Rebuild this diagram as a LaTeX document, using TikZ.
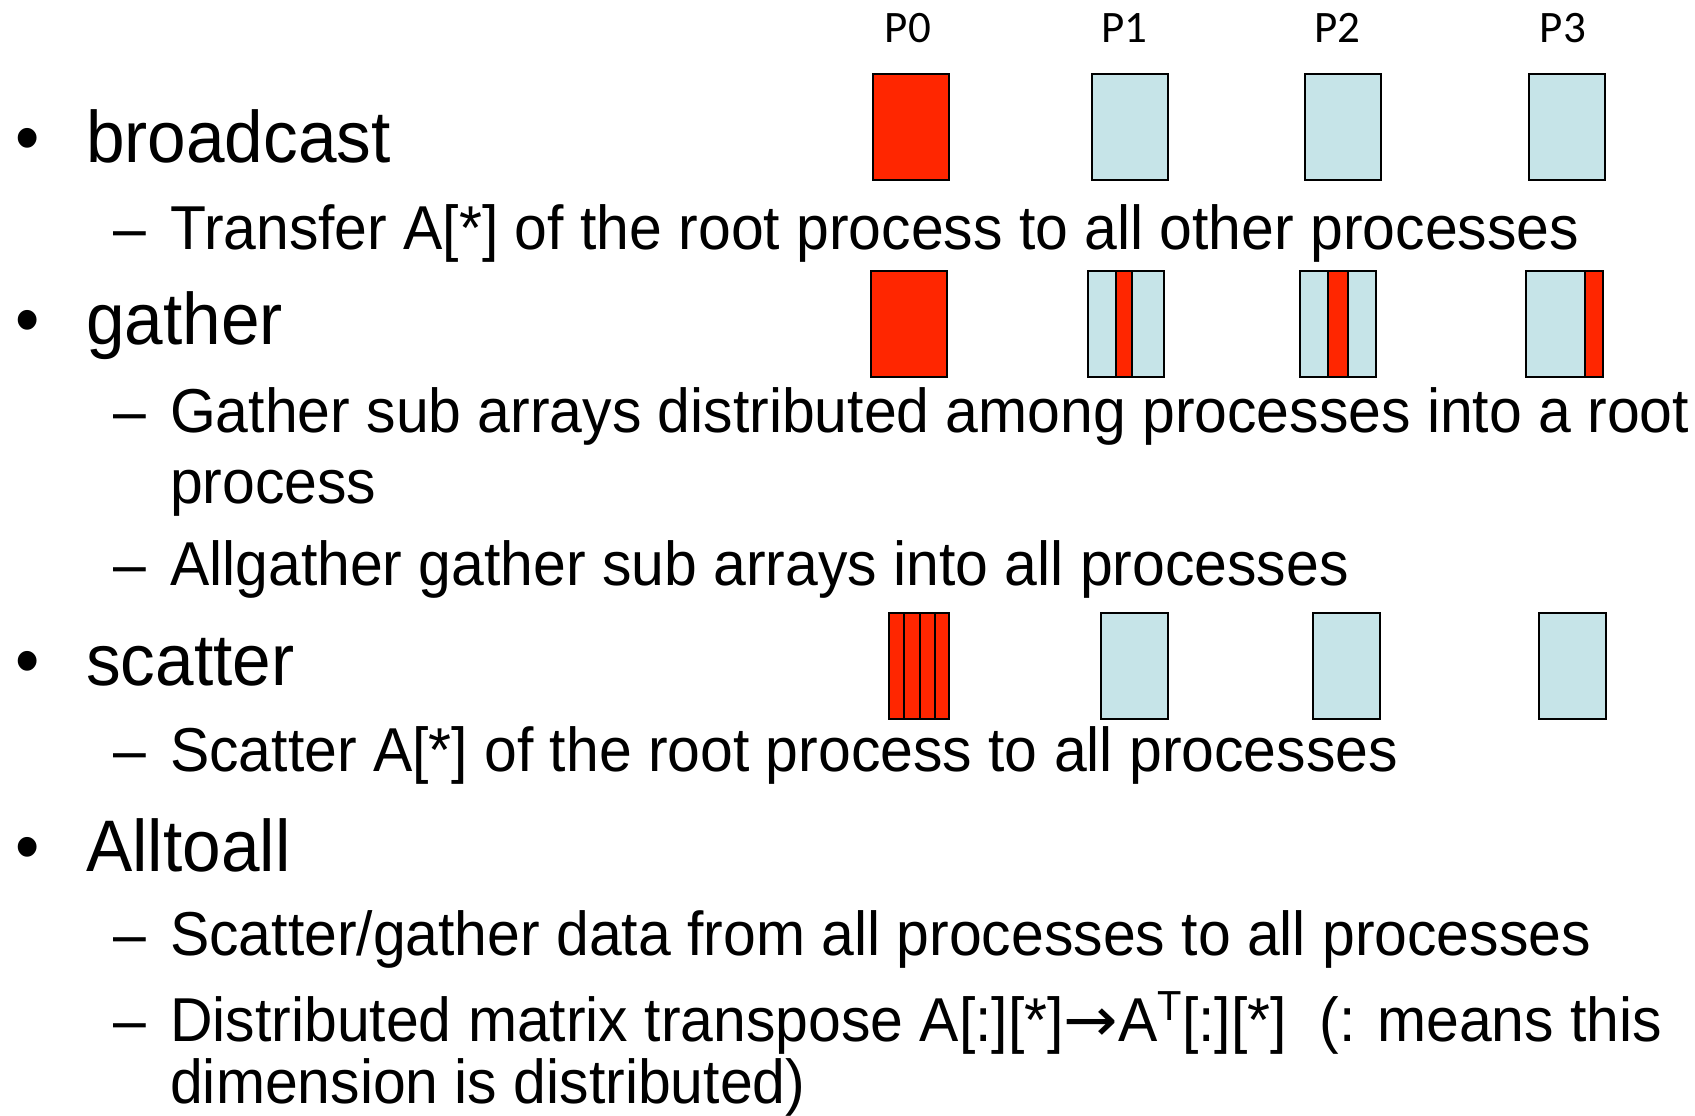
\documentclass[tikz,border=0pt]{standalone}
\usepackage{fontspec}
\setmainfont{Liberation Sans}[FakeStretch=0.95]
\newfontfamily\plabelfont{Carlito}
\newfontfamily\arrowfont{DejaVu Sans}[FakeStretch=1.05]

\definecolor{rootred}{RGB}{255,38,0}
\definecolor{cellblue}{RGB}{198,228,232}

\tikzset{
  topic/.style={anchor=base west, inner sep=0pt, font=\fontsize{73}{80}\selectfont},
  detail/.style={anchor=base west, inner sep=0pt, font=\fontsize{62}{70}\selectfont},
  plabel/.style={anchor=base, inner sep=0pt, font=\plabelfont\fontsize{45}{50}\selectfont},
  buf/.style={draw=black, line width=2pt, inner sep=0pt, minimum height=106pt},
  rootbuf/.style={buf, fill=rootred},
  peerbuf/.style={buf, fill=cellblue},
  stripe/.style={draw=black, line width=2pt, fill=rootred},
}
\newcommand{\dashitem}{\makebox[57pt][l]{–}}
\newcommand{\supT}{\raisebox{21pt}{\fontsize{42}{42}\selectfont T}}

\begin{document}
\begin{tikzpicture}[x=1pt,y=-1pt]
\useasboundingbox (0,0) rectangle (1695,1116);

% process labels
\node[plabel] (p0) at (908,43)    {P0};
\node[plabel] (p1) at (1124.7,43) {P1};
\node[plabel] (p2) at (1337.7,43) {P2};
\node[plabel] (p3) at (1563,43)   {P3};

% broadcast buffers
\node[rootbuf, minimum width=76pt] (b0) at (911.2,127)  {};
\node[peerbuf, minimum width=76pt] (b1) at (1129.5,127) {};
\node[peerbuf, minimum width=76pt] (b2) at (1342.5,127) {};
\node[peerbuf, minimum width=76pt] (b3) at (1567.2,127) {};

% gather buffers
\node[rootbuf, minimum width=76pt] (g0) at (908.5,323.7)  {};
\node[peerbuf, minimum width=76pt] (g1) at (1125.7,323.7) {};
\node[peerbuf, minimum width=76pt] (g2) at (1338.2,323.7) {};
\node[peerbuf, minimum width=77pt] (g3) at (1564.2,323.7) {};
\draw[stripe] (1115.6,270.7) rectangle (1131.6,376.7);
\draw[stripe] (1328,270.7)   rectangle (1348.3,376.7);
\draw[stripe] (1585.3,270.7) rectangle (1602.7,376.7);

% scatter buffers
\node[rootbuf, minimum width=60pt] (s0) at (919.4,665.9)  {};
\draw[line width=2pt] (904.2,612.7) -- (904.2,719);
\draw[line width=2pt] (919.6,612.7) -- (919.6,719);
\draw[line width=2pt] (935.1,612.7) -- (935.1,719);
\node[peerbuf, minimum width=67pt] (s1) at (1134.2,665.9) {};
\node[peerbuf, minimum width=67pt] (s2) at (1346.5,665.9) {};
\node[peerbuf, minimum width=67pt] (s3) at (1572.2,665.9) {};

% bullets
\node[topic] (u1) at (15,162) {•};
\node[topic] (u2) at (15,344) {•};
\node[topic] (u3) at (15,685) {•};
\node[topic] (u4) at (15,871) {•};

% collective operations and their descriptions
\node[topic] (t1) at (86,162) {broadcast};
\node[detail] (d1) at (113,249) {\dashitem Transfer A[*] of the root process to all other processes};

\node[topic] (t2) at (86,344) {gather};
\node[detail] (d2) at (113,432) {\dashitem Gather sub arrays distributed among processes into a root};
\node[detail] (d2b) at (170,503) {process};
\node[detail] (d3) at (113,585) {\dashitem Allgather gather sub arrays into all processes};

\node[topic] (t3) at (86,685) {scatter};
\node[detail] (d4) at (113,771) {\dashitem Scatter A[*] of the root process to all processes};

\node[topic] (t4) at (86,871) {Alltoall};
\node[detail] (d5) at (113,955) {\dashitem Scatter/gather data from all processes to all processes};
\node[detail] (d6) at (113,1041) {\dashitem Distributed matrix transpose A[:][*]{\arrowfont →}A\supT[:][*]\ \ (: means this};
\node[detail] (d6b) at (170,1103) {dimension is distributed)};
\end{tikzpicture}
\end{document}
